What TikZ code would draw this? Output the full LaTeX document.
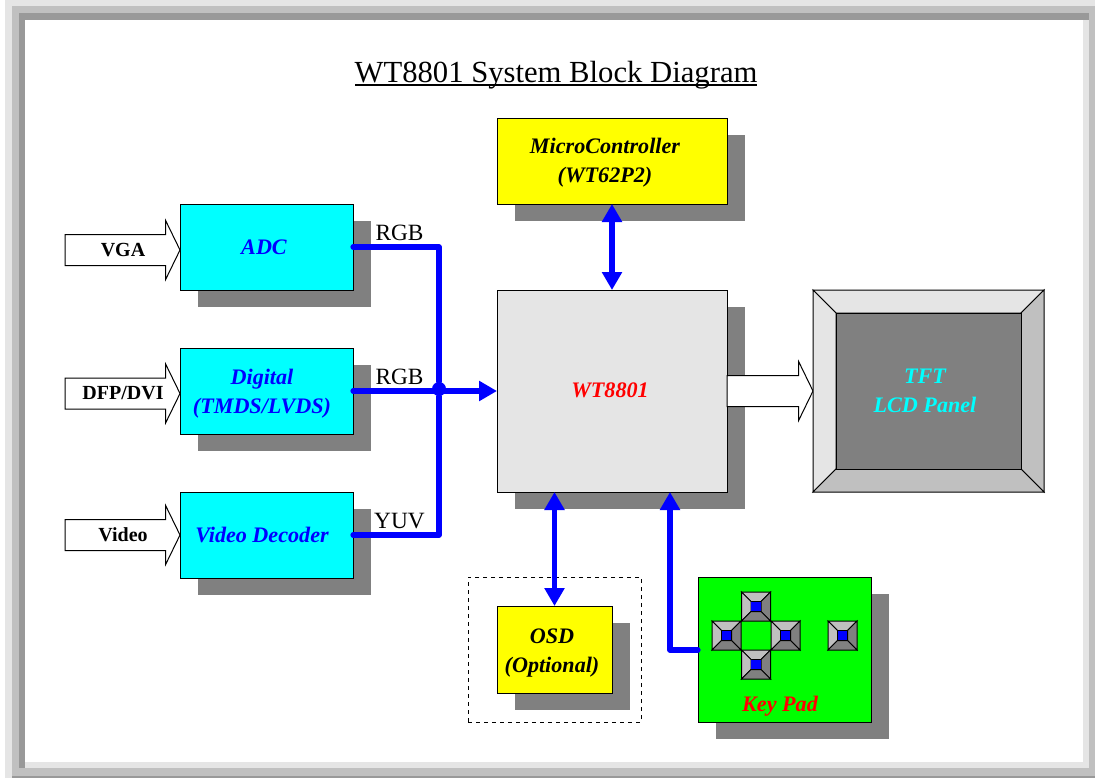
\documentclass[tikz,border=0pt]{standalone}
\usepackage{fontspec}
\setmainfont{Liberation Serif}
\usetikzlibrary{shadows,shapes.arrows,arrows.meta}

\definecolor{cyan}{HTML}{00FFFF}
\definecolor{yellow}{HTML}{FFFF00}
\definecolor{shade}{HTML}{808080}
\definecolor{bevel}{HTML}{C0C0C0}
\definecolor{chip}{HTML}{E5E5E5}
\definecolor{rimdark}{HTML}{999999}

\begin{document}
\begin{tikzpicture}[x=0.75pt,y=-0.75pt]
	\tikzset{block/.style={draw=black,line width=0.75pt,fill=#1,inner sep=0pt,outer sep=0pt,
		general shadow={shadow xshift=13.5pt,shadow yshift=-13pt,fill=shade}}}
	\tikzset{blocktext/.style={font=\fontsize{16.6}{21.75}\selectfont\bfseries\itshape,align=center,inner sep=0pt}}
	\tikzset{signal/.style={font=\fontsize{17.5}{20}\selectfont,inner sep=0pt,anchor=base}}
	\tikzset{fatarrow/.style={draw=black,line width=0.75pt,fill=white,shape=single arrow,anchor=tip,
		single arrow tip angle=128,single arrow head extend=10.5pt,single arrow head indent=0pt,
		inner sep=0pt,outer sep=0pt,text height=15.5pt,text depth=7pt}}
	\tikzset{fattext/.style={inner sep=0pt,font=\fontsize{15}{18}\selectfont\bfseries}}
	\tikzset{flow/.style={draw=blue,line width=3.9pt,line join=round,line cap=round}}
	\tikzset{tip/.style={-{Triangle[length=13.5pt,width=14.5pt]}}}
	\tikzset{bothtip/.style={{Triangle[length=13.5pt,width=14.5pt]}-{Triangle[length=13.5pt,width=14.5pt]},line cap=butt}}

	\useasboundingbox (0,0) rectangle (1095,778);

	% frame
	\fill[rimdark] (5,0) rectangle (1095,778);
	\fill[bevel] (12,6) rectangle (1095,776);
	\fill[rimdark] (19,13) rectangle (1089,768);
	\fill[chip] (25,20) rectangle (1089,768);
	\fill[white] (25,20) rectangle (1083,762);
	\fill[chip] (5,0) rectangle (1095,6);
	\fill[chip] (5,0) rectangle (12,778);
	\fill[bevel] (12,6) rectangle (1095,13);
	\fill[bevel] (12,6) rectangle (19,776);
	\fill[rimdark] (19,13) rectangle (1089,20);
	\fill[rimdark] (19,13) rectangle (25,768);
	\fill[bevel] (19,768) rectangle (1095,776);
	\fill[bevel] (1089,6) rectangle (1095,776);

	\node[inner sep=0pt,anchor=base,font=\fontsize{23}{26}\selectfont] (title) at (556,82.5) {WT8801 System Block Diagram};
	\draw[line width=1.2pt] (355,85) -- (757,85);

	% video inputs
	\node[block=cyan,minimum width=129.75pt,minimum height=64.5pt] (adc) at (266.5,247) {};
	\node[block=cyan,minimum width=129.75pt,minimum height=64.5pt] (digital) at (266.5,391) {};
	\node[block=cyan,minimum width=129.75pt,minimum height=64.5pt] (decoder) at (266.5,535) {};
	\node[block=yellow,minimum width=172.5pt,minimum height=64.5pt] (mcu) at (612,161) {};
	\node[block=chip,minimum width=172.5pt,minimum height=151.5pt] (wt8801) at (612,391) {};

	\node[draw=black,dashed,line width=0.75pt,minimum width=129.75pt,minimum height=108.75pt,inner sep=0pt] (optional) at (554.5,649.5) {};
	\node[block=yellow,minimum width=86.25pt,minimum height=65.25pt] (osd) at (554.5,649.5) {};
	\node[block=green,minimum width=129.75pt,minimum height=108.75pt] (keypad) at (784.5,649.5) {};

	\node[blocktext,blue] (adctext) at (264,247) {ADC};
	\node[blocktext,blue] (digitaltext) at (262,393.5) {Digital\\(TMDS/LVDS)};
	\node[blocktext,blue] (decodertext) at (262,534.5) {Video Decoder};
	\node[blocktext,black] (mcutext) at (605,163) {MicroController\\(WT62P2)};
	\node[blocktext,red] (wttext) at (610,390) {WT8801};
	\node[blocktext,black] (osdtext) at (552,653) {OSD\\(Optional)};
	\node[blocktext,red] (keytext) at (780,706) {Key Pad};

	% fat arrows
	\node[fatarrow,minimum height=86.25pt] (vga) at (180,250) {};
	\node[fatarrow,minimum height=86.25pt] (dvi) at (180,393.5) {};
	\node[fatarrow,minimum height=86.25pt] (video) at (180,535) {};
	\node[fatarrow,minimum height=64.5pt] (out) at (813,391) {};
	\node[fattext] (vgatext) at (123,250) {VGA};
	\node[fattext] (dvitext) at (123,393.5) {DFP/DVI};
	\node[fattext] (videotext) at (123,534.5) {Video};

	% panel
	\coordinate (a) at (813,290);
	\coordinate (b) at (1044,290);
	\coordinate (c) at (1044,492);
	\coordinate (d) at (813,492);
	\coordinate (e) at (836,313);
	\coordinate (f) at (1021,313);
	\coordinate (g) at (1021,469);
	\coordinate (h) at (836,469);
	\draw[fill=chip,line width=0.75pt] (a) -- (b) -- (f) -- (e) -- cycle;
	\draw[fill=chip,line width=0.75pt] (a) -- (e) -- (h) -- (d) -- cycle;
	\draw[fill=bevel,line width=0.75pt] (b) -- (c) -- (g) -- (f) -- cycle;
	\draw[fill=bevel,line width=0.75pt] (d) -- (h) -- (g) -- (c) -- cycle;
	\node[draw=black,line width=0.75pt,fill=shade,minimum width=138.75pt,minimum height=117pt,inner sep=0pt,outer sep=0pt] (lcd) at (928.5,391) {};
	\node[blocktext,cyan] (lcdtext) at (925,391) {TFT\\LCD Panel};

	% keys
	\foreach \kx/\ky in {756/606.5,726.5/635.5,785.5/635.5,756/664.5,842.5/635.5}
	{
		\draw[fill=bevel,line width=0.75pt] (\kx-14.5,\ky-14.5) -- (\kx+14.5,\ky-14.5) -- (\kx+5,\ky-5) -- (\kx-5,\ky-5) -- cycle;
		\draw[fill=bevel,line width=0.75pt] (\kx-14.5,\ky-14.5) -- (\kx-5,\ky-5) -- (\kx-5,\ky+5) -- (\kx-14.5,\ky+14.5) -- cycle;
		\draw[fill=shade,line width=0.75pt] (\kx+14.5,\ky-14.5) -- (\kx+14.5,\ky+14.5) -- (\kx+5,\ky+5) -- (\kx+5,\ky-5) -- cycle;
		\draw[fill=shade,line width=0.75pt] (\kx-14.5,\ky+14.5) -- (\kx-5,\ky+5) -- (\kx+5,\ky+5) -- (\kx+14.5,\ky+14.5) -- cycle;
		\fill[blue] (\kx-4.6,\ky-4.6) rectangle (\kx+4.6,\ky+4.6);
	}

	% signal names
	\node[signal] (rgba) at (399.5,240) {RGB};
	\node[signal] (rgbb) at (399.5,384.3) {RGB};
	\node[signal] (yuv) at (399.5,528) {YUV};

	% connectors
	\node[circle,fill=blue,inner sep=0pt,minimum size=10.5pt] (join) at (439,389) {};
	\coordinate (keyout) at (698,650);
	\coordinate (keyin) at (670,492);
	\coordinate (osdin) at (554.5,492);
	\draw[flow] (adc.east) -| (join);
	\draw[flow] (decoder.east) -| (join);
	\draw[flow,tip] (digital.east) -- (wt8801.west);
	\draw[flow,bothtip] (mcu.south) -- (wt8801.north);
	\draw[flow,bothtip] (osd.north) -- (osdin);
	\draw[flow,tip] (keyout) -| (keyin);
\end{tikzpicture}
\end{document}
